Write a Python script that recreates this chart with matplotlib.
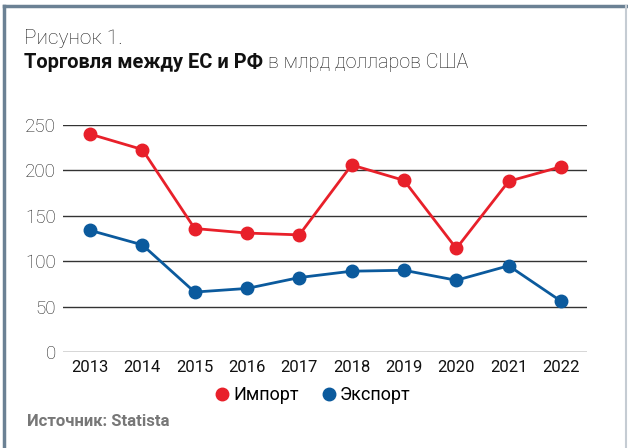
import matplotlib.pyplot as plt
from matplotlib.lines import Line2D

plt.rcParams['font.family'] = ['Roboto', 'DejaVu Sans']

# Данные
years = ['2013', '2014', '2015', '2016', '2017', '2018', '2019', '2020', '2021', '2022']
imports = [240, 223, 136, 131, 129, 206, 189, 114, 188, 204]
exports = [134, 118, 66, 70, 82, 89, 90, 79, 95, 56]
yticks = [0, 50, 100, 150, 200, 250]

red = '#e8202a'
blue = '#0b5a9d'

fig = plt.figure(figsize=(6.28, 4.48), dpi=100)
ax = fig.add_axes([63 / 628, 1 - 352 / 448, 524 / 628, 227 / 448])

x = range(len(years))
ax.plot(x, imports, color=red, lw=2, marker='o', ms=9, clip_on=False, zorder=3)
ax.plot(x, exports, color=blue, lw=2, marker='o', ms=9, clip_on=False, zorder=3)

ax.set_xlim(-0.516, 9.497)
ax.set_ylim(0, 250)
ax.set_yticks(yticks)
ax.set_xticks(list(x))
ax.set_xticklabels(years)
ax.yaxis.grid(True, color='#333333', lw=1)
ax.set_axisbelow(True)
for s in ax.spines.values():
    s.set_visible(False)
ax.tick_params(axis='both', length=0)
ax.tick_params(axis='y', labelsize=13.5, pad=5, labelcolor='#222222')
ax.tick_params(axis='x', labelsize=12, pad=6, labelcolor='#111111')
for lab in ax.get_yticklabels():
    lab.set_fontweight('light')

# Легенда
handles = [Line2D([], [], ls='', marker='o', color=red, ms=9),
           Line2D([], [], ls='', marker='o', color=blue, ms=9)]
fig.legend(handles, ['Импорт', 'Экспорт'], loc='center', bbox_to_anchor=(312 / 628, 1 - 395 / 448),
           ncol=2, frameon=False, fontsize=13, handletextpad=0.1, columnspacing=1.2,
           handlelength=1.0)

# Заголовок
fig.text(24 / 628, 1 - 39 / 448, 'Рисунок 1.', fontsize=15, fontweight='light', va='center', color='#222222')
t1 = fig.text(24 / 628, 1 - 62 / 448, 'Торговля между ЕС и РФ', fontsize=14.4, fontweight='bold',
              va='center', color='#111111')
r = fig.canvas.get_renderer()
bb = t1.get_window_extent(renderer=r)
fig.text(bb.x1 / 628 + 5 / 628, 1 - 62 / 448, 'в млрд долларов США', fontsize=14.2, fontweight='light',
         va='center', color='#1a1a1a')

fig.text(27 / 628, 1 - 421 / 448, 'Источник: Statista', fontsize=12, fontweight='bold',
         va='center', color='#777777')

# Рамка
fig.add_artist(Line2D([4 / 628, 626 / 628], [1 - 6 / 448, 1 - 6 / 448], color='#6b8194', lw=2.5))
fig.add_artist(Line2D([4 / 628, 4 / 628], [0, 1 - 6 / 448], color='#6b8194', lw=2.5))
fig.add_artist(Line2D([626 / 628, 626 / 628], [0, 1 - 6 / 448], color='#c5ccd3', lw=1.5))

fig.savefig('out.png', dpi=100)
